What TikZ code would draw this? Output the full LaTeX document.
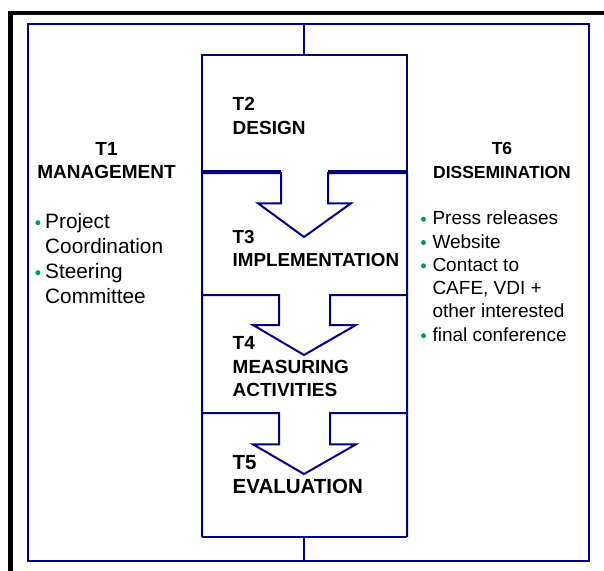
\documentclass[tikz,border=0pt]{standalone}
\usepackage{fontspec}
\setmainfont{Liberation Sans}
\definecolor{lineblue}{RGB}{0,0,128}
\definecolor{bulletgreen}{RGB}{0,153,102}
\newcommand{\bul}{\tikz[x=1pt,y=1pt,baseline=0pt]\fill[bulletgreen] (2.5,5.5) circle[radius=2.5];}

\begin{document}
\begin{tikzpicture}
[x=1pt,y=-1pt,
  frameDecorate/.style={draw=black,line width=4.5pt},%
  lineDecorate/.style={draw=lineblue,line width=2pt,line join=miter},%
  titleDecorate/.style={font=\fontsize{#1}{23.5}\selectfont\bfseries,inner sep=0pt},%
  titleDecorate/.default=19,%
  listDecorate/.style={inner sep=0pt,anchor=west}]
\useasboundingbox (0,0) rectangle (604,570);
\clip (0,0) rectangle (604,570);
%% frames
\draw[frameDecorate] (10.5,13) rectangle (650,620);
\draw[lineDecorate] (28,24) rectangle (589,560.5);
%% T2 box, bottom edge open where the arrow runs
\draw[lineDecorate] (281,171) -- (202,171) -- (202,55) -- (407,55) -- (407,171) -- (328,171);
%% T3 to T5 boxes with arrow notch in the top edge
\foreach \ytop/\ybot/\yneck/\ytip/\sl/\sr/\hl/\hr in {
  173/295/203.3/237/281/328/258/351,
  295/413/325/355/279/330/253/356,
  413/537/444.3/474/279/330/253/356}
{
  \draw[lineDecorate] (202,\ybot) -- (202,\ytop) -- (\sl,\ytop) -- (\sl,\yneck)
    -- (\hl,\yneck) -- (304,\ytip) -- (\hr,\yneck) -- (\sr,\yneck)
    -- (\sr,\ytop) -- (407,\ytop) -- (407,\ybot);
}
\draw[lineDecorate] (202,537) -- (407,537);
%% connectors
\coordinate (outertop) at (304,24);
\coordinate (designtop) at (304,55);
\coordinate (evalbottom) at (304,537);
\coordinate (outerbottom) at (304,560.5);
\draw[lineDecorate] (outertop) -- (designtop);
\draw[lineDecorate] (evalbottom) -- (outerbottom);
%% titles
\node[titleDecorate,align=center] (management) at (106.5,160.5) {T1\\MANAGEMENT};
\node[titleDecorate=17.5,align=center] (dissemination) at (502,160.5) {T6\\DISSEMINATION};
\node[titleDecorate,align=left,anchor=west] (design) at (232.5,116.2) {T2\\DESIGN};
\node[titleDecorate=18.8,align=left,anchor=west] (implementation) at (232.5,248.3) {T3\\IMPLEMENTATION};
\node[titleDecorate,align=left,anchor=west] (measuring) at (232.5,366.7) {T4\\MEASURING\\ACTIVITIES};
\node[titleDecorate=20.5,align=left,anchor=west] (evaluation) at (232.5,474.7) {T5\\EVALUATION};
%% bullet lists
\node[listDecorate] (mgmtlist) at (35.2,260.7) {\fontsize{20.8}{25}\selectfont
  \begin{tabular}{@{}l@{\hspace{4.8pt}}l@{}}
  \bul & Project\\
       & Coordination\\
  \bul & Steering\\
       & Committee
  \end{tabular}};
\node[listDecorate] (disslist) at (420.8,278.3) {\fontsize{19}{23.3}\selectfont
  \begin{tabular}{@{}l@{\hspace{6.5pt}}l@{}}
  \bul & Press releases\\
  \bul & Website\\
  \bul & Contact to\\
       & CAFE, VDI +\\
       & other interested\\
  \bul & final conference
  \end{tabular}};
\end{tikzpicture}
\end{document}
